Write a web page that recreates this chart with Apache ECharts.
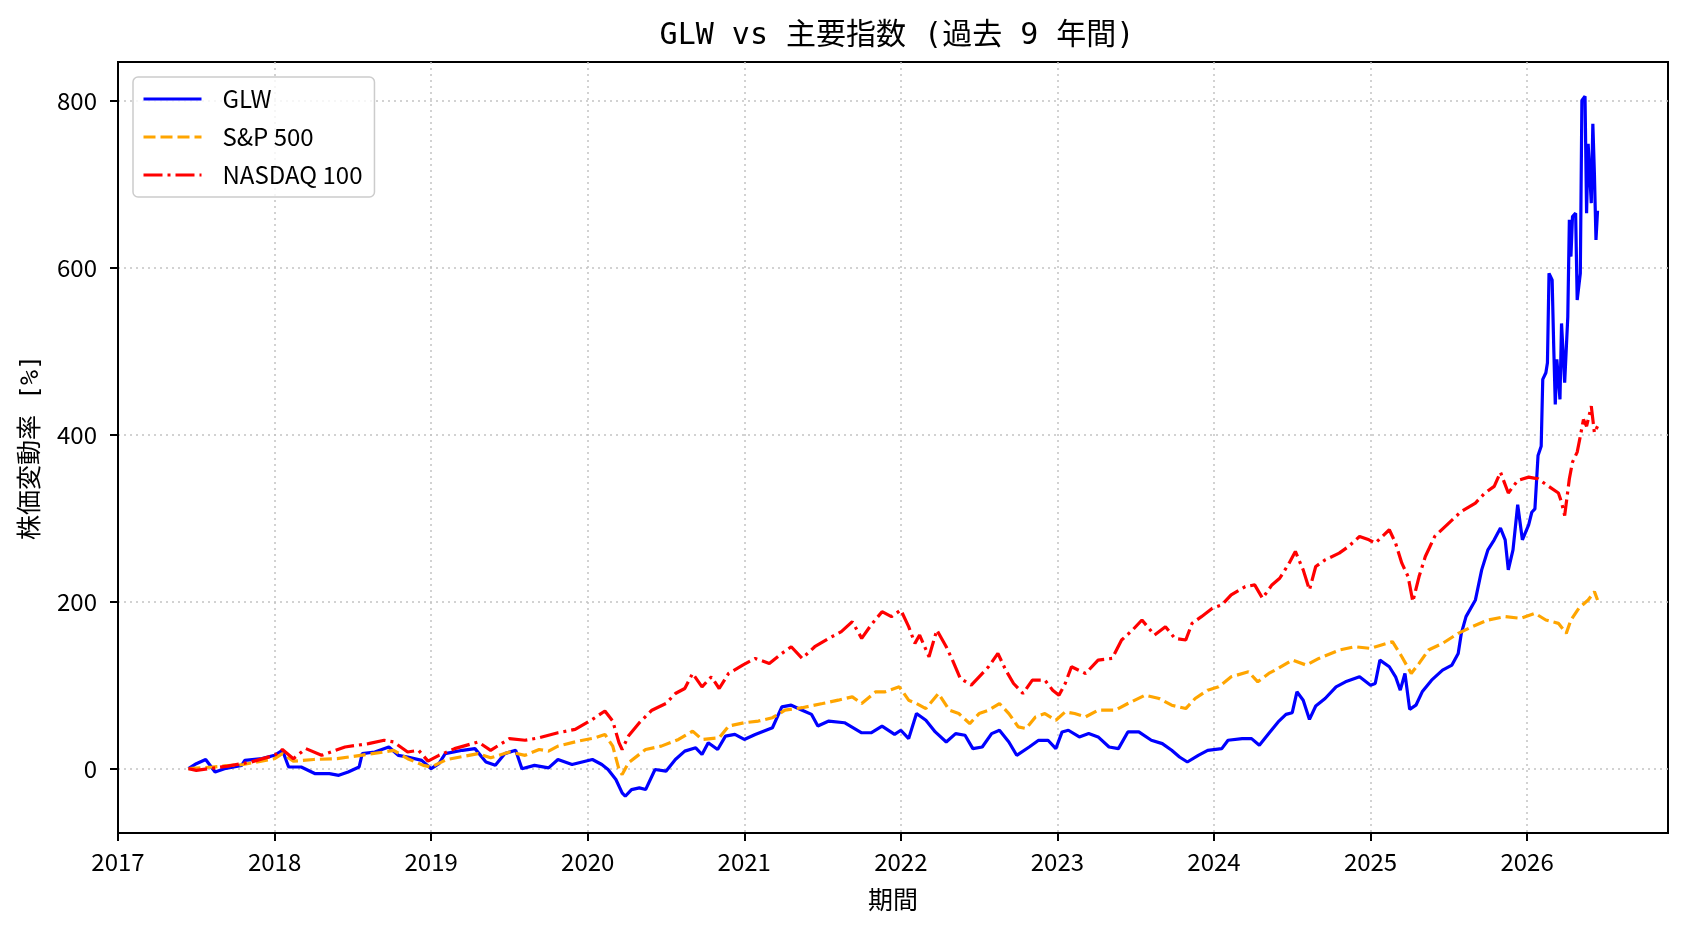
<!DOCTYPE html>
<html>
<head>
<meta charset="utf-8">
<title>GLW vs 主要指数</title>
<script src="https://cdn.jsdelivr.net/npm/echarts@6/dist/echarts.min.js"></script>
<style>
  html, body { margin: 0; padding: 0; background: #fff; }
  #chart { width: 1688px; height: 932px; }
</style>
</head>
<body>
<div id="chart"></div>
<script>
// 期間は小数の年で持つ (2017.5 = 2017年7月頃)
const glwYears = [
  2017.45, 2017.50, 2017.56, 2017.62, 2017.68, 2017.79, 2017.81, 2017.92, 2018.00, 2018.05,
  2018.09, 2018.17, 2018.26, 2018.35, 2018.41, 2018.47, 2018.54, 2018.56, 2018.64, 2018.73,
  2018.79, 2018.85, 2018.94, 2019.00, 2019.05, 2019.09, 2019.20, 2019.28, 2019.35, 2019.41,
  2019.47, 2019.54, 2019.58, 2019.66, 2019.75, 2019.81, 2019.90, 2020.03, 2020.09, 2020.13,
  2020.18, 2020.22, 2020.24, 2020.28, 2020.33, 2020.37, 2020.43, 2020.50, 2020.56, 2020.62,
  2020.69, 2020.73, 2020.77, 2020.83, 2020.88, 2020.94, 2021.00, 2021.07, 2021.18, 2021.24,
  2021.30, 2021.37, 2021.43, 2021.47, 2021.54, 2021.64, 2021.75, 2021.81, 2021.88, 2021.96,
  2022.00, 2022.05, 2022.10, 2022.16, 2022.22, 2022.29, 2022.35, 2022.41, 2022.46, 2022.52,
  2022.58, 2022.63, 2022.69, 2022.74, 2022.82, 2022.88, 2022.94, 2022.99, 2023.03, 2023.07,
  2023.14, 2023.20, 2023.26, 2023.33, 2023.39, 2023.45, 2023.52, 2023.60, 2023.67, 2023.73,
  2023.78, 2023.83, 2023.90, 2023.96, 2024.05, 2024.09, 2024.18, 2024.24, 2024.29, 2024.35,
  2024.41, 2024.46, 2024.50, 2024.53, 2024.57, 2024.61, 2024.65, 2024.71, 2024.78, 2024.84,
  2024.93, 2025.00, 2025.03, 2025.06, 2025.12, 2025.16, 2025.19, 2025.22, 2025.25, 2025.29,
  2025.33, 2025.39, 2025.46, 2025.52, 2025.56, 2025.58, 2025.61, 2025.67, 2025.71, 2025.75,
  2025.79, 2025.83, 2025.86, 2025.88, 2025.91, 2025.94, 2025.97, 2026.01, 2026.03, 2026.05,
  2026.07, 2026.09, 2026.10, 2026.12, 2026.13, 2026.14, 2026.16, 2026.17, 2026.18, 2026.19,
  2026.21, 2026.22, 2026.24, 2026.26, 2026.27, 2026.28, 2026.29, 2026.31, 2026.32, 2026.34,
  2026.35, 2026.37, 2026.38, 2026.39, 2026.41, 2026.42, 2026.43, 2026.44, 2026.45
]
const glwValues = [
  0, 6, 11, -4, 0, 4, 10, 12, 16, 22,
  2, 2, -6, -6, -8, -4, 2, 18, 20, 26,
  16, 14, 10, 0, 6, 18, 22, 24, 8, 4,
  18, 22, 0, 4, 1, 11, 5, 11, 5, -1,
  -13, -29, -33, -25, -23, -25, -1, -3, 11, 21,
  25, 17, 31, 23, 39, 41, 35, 41, 49, 74,
  76, 70, 65, 51, 57, 55, 43, 43, 51, 41,
  46, 36, 66, 58, 44, 32, 42, 40, 24, 26,
  42, 46, 32, 16, 26, 34, 34, 24, 44, 46,
  38, 42, 38, 26, 24, 44, 44, 34, 30, 22,
  14, 8, 16, 22, 24, 34, 36, 36, 28, 42,
  56, 65, 67, 92, 82, 59, 75, 84, 98, 104,
  110, 100, 102, 130, 122, 110, 94, 114, 71, 76,
  92, 106, 118, 124, 138, 162, 182, 202, 238, 262,
  274, 288, 274, 238, 262, 316, 274, 292, 307, 311,
  375, 386, 466, 474, 486, 593, 585, 506, 436, 490,
  442, 533, 462, 541, 657, 613, 661, 665, 561, 593,
  800, 805, 665, 748, 677, 772, 712, 633, 668
]

const spxYears = [
  2017.45, 2017.60, 2017.80, 2018.00, 2018.05, 2018.12, 2018.25, 2018.40, 2018.55, 2018.70,
  2018.76, 2018.85, 2018.95, 2019.00, 2019.10, 2019.30, 2019.38, 2019.50, 2019.60, 2019.69,
  2019.75, 2019.81, 2019.94, 2020.05, 2020.11, 2020.16, 2020.20, 2020.22, 2020.26, 2020.37,
  2020.47, 2020.58, 2020.67, 2020.73, 2020.84, 2020.90, 2021.00, 2021.09, 2021.18, 2021.26,
  2021.37, 2021.50, 2021.60, 2021.69, 2021.75, 2021.84, 2021.90, 2021.99, 2022.05, 2022.10,
  2022.16, 2022.24, 2022.31, 2022.37, 2022.44, 2022.50, 2022.56, 2022.63, 2022.69, 2022.75,
  2022.80, 2022.86, 2022.92, 2022.99, 2023.05, 2023.11, 2023.18, 2023.26, 2023.37, 2023.45,
  2023.56, 2023.65, 2023.73, 2023.82, 2023.88, 2023.96, 2024.03, 2024.11, 2024.22, 2024.28,
  2024.35, 2024.41, 2024.50, 2024.59, 2024.67, 2024.80, 2024.90, 2025.00, 2025.07, 2025.14,
  2025.20, 2025.26, 2025.31, 2025.37, 2025.46, 2025.56, 2025.65, 2025.75, 2025.86, 2025.96,
  2026.05, 2026.12, 2026.20, 2026.25, 2026.28, 2026.33, 2026.39, 2026.43, 2026.45
]
const spxValues = [
  0, 2, 5, 12, 18, 9, 11, 12, 16, 20,
  22, 12, 4, 2, 11, 18, 13, 20, 16, 23,
  21, 27, 33, 37, 41, 27, -1, -7, 7, 23,
  27, 35, 45, 35, 37, 51, 55, 57, 61, 70,
  73, 78, 82, 86, 78, 92, 92, 98, 82, 78,
  72, 90, 70, 66, 54, 66, 70, 78, 66, 50,
  48, 62, 66, 58, 68, 66, 62, 70, 70, 78,
  88, 84, 76, 72, 84, 94, 98, 110, 116, 104,
  114, 120, 130, 124, 132, 142, 146, 144, 148, 152,
  134, 114, 126, 142, 150, 162, 170, 178, 182, 180,
  186, 178, 174, 162, 178, 192, 202, 212, 202
]

const ndxYears = [
  2017.45, 2017.50, 2017.70, 2017.85, 2018.00, 2018.05, 2018.12, 2018.20, 2018.30, 2018.45,
  2018.60, 2018.70, 2018.76, 2018.85, 2018.92, 2018.98, 2019.05, 2019.15, 2019.30, 2019.38,
  2019.50, 2019.60, 2019.69, 2019.81, 2019.92, 2020.03, 2020.11, 2020.16, 2020.20, 2020.22,
  2020.26, 2020.33, 2020.41, 2020.50, 2020.56, 2020.62, 2020.67, 2020.73, 2020.79, 2020.84,
  2020.90, 2020.99, 2021.07, 2021.16, 2021.24, 2021.30, 2021.37, 2021.45, 2021.54, 2021.62,
  2021.69, 2021.75, 2021.81, 2021.88, 2021.94, 2022.00, 2022.05, 2022.09, 2022.12, 2022.18,
  2022.23, 2022.29, 2022.33, 2022.38, 2022.45, 2022.50, 2022.56, 2022.62, 2022.67, 2022.72,
  2022.78, 2022.84, 2022.92, 2022.97, 2023.01, 2023.05, 2023.09, 2023.18, 2023.26, 2023.35,
  2023.41, 2023.48, 2023.54, 2023.62, 2023.69, 2023.75, 2023.82, 2023.86, 2023.92, 2023.99,
  2024.05, 2024.11, 2024.20, 2024.26, 2024.31, 2024.37, 2024.42, 2024.48, 2024.52, 2024.57,
  2024.61, 2024.65, 2024.71, 2024.80, 2024.86, 2024.93, 2024.99, 2025.03, 2025.12, 2025.16,
  2025.20, 2025.24, 2025.27, 2025.31, 2025.35, 2025.41, 2025.50, 2025.58, 2025.67, 2025.73,
  2025.79, 2025.83, 2025.88, 2025.94, 2026.01, 2026.07, 2026.13, 2026.20, 2026.22, 2026.24,
  2026.27, 2026.29, 2026.32, 2026.34, 2026.36, 2026.38, 2026.41, 2026.43, 2026.45
]
const ndxValues = [
  0, -2, 3, 8, 16, 23, 12, 24, 16, 26,
  30, 34, 32, 20, 22, 9, 16, 24, 32, 22,
  36, 34, 37, 43, 47, 59, 69, 57, 31, 23,
  39, 55, 70, 78, 90, 96, 114, 98, 110, 96,
  114, 124, 132, 126, 138, 146, 132, 146, 156, 164,
  176, 156, 172, 188, 182, 190, 170, 150, 160, 134,
  166, 146, 130, 108, 100, 110, 122, 138, 118, 102,
  90, 106, 106, 94, 88, 102, 122, 114, 130, 132,
  154, 166, 178, 160, 170, 156, 154, 174, 182, 192,
  196, 208, 218, 220, 204, 220, 228, 246, 260, 238,
  214, 242, 250, 258, 266, 278, 274, 270, 286, 270,
  246, 230, 200, 230, 254, 278, 294, 308, 318, 330,
  338, 355, 330, 345, 349, 347, 339, 330, 319, 303,
  347, 367, 379, 398, 418, 410, 434, 402, 410
]

const yearTicks = [2017, 2018, 2019, 2020, 2021, 2022, 2023, 2024, 2025, 2026]
const valueTicks = [0, 200, 400, 600, 800]

const font = 'Noto Sans CJK JP'
// タイトルと縦軸名は半角が等幅に見えるので等幅フォントを先に
const monoFont = "'DejaVu Sans Mono', 'Noto Sans CJK JP'"

function zip(xs, ys) {
  return xs.map((x, i) => [x, ys[i]])
}

const chart = echarts.init(document.getElementById('chart'))

const option = {
  animation: false,
  backgroundColor: '#fff',
  textStyle: { fontFamily: font, color: '#000' },
  title: {
    text: 'GLW vs 主要指数 (過去 9 年間)',
    left: 892,
    top: 16,
    textAlign: 'center',
    textStyle: { fontFamily: monoFont, fontSize: 30, fontWeight: 'normal', color: '#000' }
  },
  legend: {
    orient: 'vertical',
    left: 133,
    top: 77,
    data: ['GLW', 'S&P 500', 'NASDAQ 100'],
    backgroundColor: 'rgba(255,255,255,0.8)',
    borderColor: '#cccccc',
    borderWidth: 1.5,
    borderRadius: 5,
    padding: [10, 12, 10, 9],
    itemWidth: 58,
    itemHeight: 14,
    itemGap: 14,
    // 凡例は線だけ見せる (丸いシンボルを隠す)
    itemStyle: { opacity: 0 },
    lineStyle: { width: 3 },
    textStyle: { fontFamily: font, fontSize: 24, color: '#000', lineHeight: 24, padding: [0, 0, 0, 16] }
  },
  grid: {
    left: 118,
    right: 20,
    top: 62,
    bottom: 99,
    show: true,
    borderColor: '#000',
    borderWidth: 2
  },
  xAxis: {
    type: 'value',
    min: 2017,
    max: 2026.9,
    interval: 1,
    name: '期間',
    nameLocation: 'middle',
    nameGap: 54,
    nameTextStyle: { fontFamily: font, fontSize: 25, color: '#000' },
    axisLine: { show: true, onZero: false, lineStyle: { color: '#000', width: 2 } },
    axisTick: { show: true, length: 8, customValues: yearTicks, lineStyle: { color: '#000', width: 2 } },
    axisLabel: {
      customValues: yearTicks,
      margin: 17,
      fontFamily: font,
      fontSize: 24,
      color: '#000',
      formatter: v => String(v)
    },
    splitLine: { show: true, lineStyle: { color: '#c4c4c4', width: 1.5, type: [2, 4] } }
  },
  yAxis: {
    type: 'value',
    min: -77,
    max: 846,
    name: '株価変動率 [%]',
    nameLocation: 'middle',
    nameGap: 74,
    nameTextStyle: { fontFamily: monoFont, fontSize: 25, color: '#000' },
    axisLine: { show: true, onZero: false, lineStyle: { color: '#000', width: 2 } },
    axisTick: { show: true, length: 8, customValues: valueTicks, lineStyle: { color: '#000', width: 2 } },
    axisLabel: {
      customValues: valueTicks,
      margin: 21,
      fontFamily: font,
      fontSize: 24,
      color: '#000',
      formatter: v => String(v)
    },
    splitLine: { show: true, lineStyle: { color: '#c4c4c4', width: 1.5, type: [2, 4] } }
  },
  series: [
    {
      name: 'GLW',
      type: 'line',
      symbol: 'none',
      data: zip(glwYears, glwValues),
      lineStyle: { color: '#0000ff', width: 3.2 },
      itemStyle: { color: '#0000ff' }
    },
    {
      name: 'S&P 500',
      type: 'line',
      symbol: 'none',
      data: zip(spxYears, spxValues),
      lineStyle: { color: '#ffa500', width: 3.2, type: [12, 5] },
      itemStyle: { color: '#ffa500' }
    },
    {
      name: 'NASDAQ 100',
      type: 'line',
      symbol: 'none',
      data: zip(ndxYears, ndxValues),
      lineStyle: { color: '#ff0000', width: 3.2, type: [19, 5, 3, 5] },
      itemStyle: { color: '#ff0000' }
    }
  ]
}

chart.setOption(option)
</script>
</body>
</html>
